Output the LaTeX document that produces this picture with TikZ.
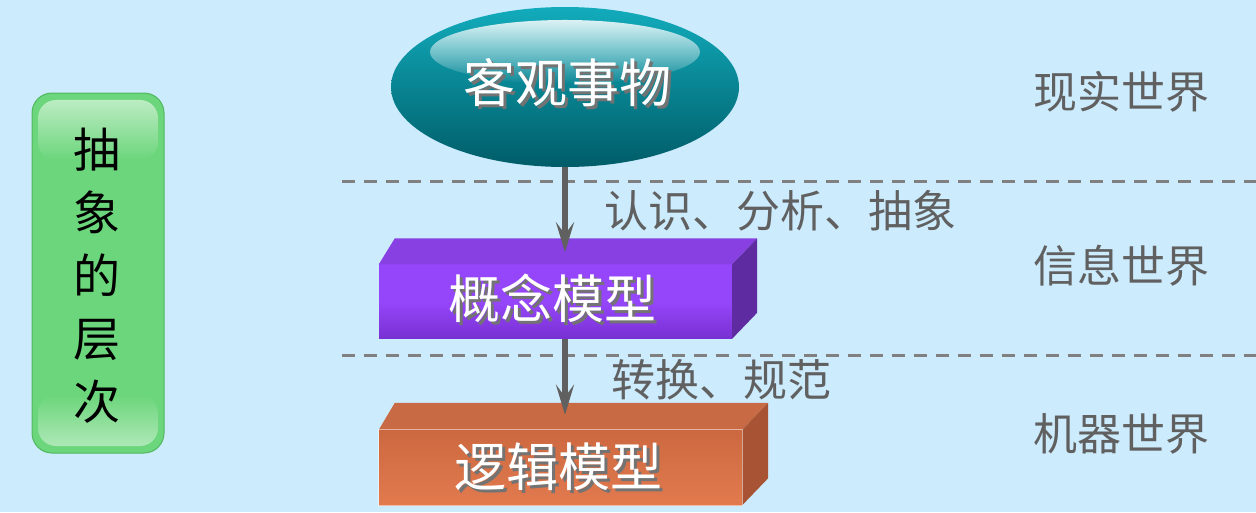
\documentclass[tikz,border=0pt]{standalone}
\usepackage{fontspec}
\newfontfamily\cjk{Noto Sans CJK SC}
\usetikzlibrary{shapes.geometric,arrows.meta,fadings,calc}

\definecolor{bg}{RGB}{204,235,253}
\definecolor{linegray}{RGB}{128,128,128}
\definecolor{arrowgray}{RGB}{96,96,96}
\definecolor{textgray}{RGB}{96,96,96}
\definecolor{tealtop}{RGB}{18,172,188}
\definecolor{tealbot}{RGB}{0,92,104}
\definecolor{purpfront}{RGB}{150,70,250}
\definecolor{purpfrontdk}{RGB}{120,48,210}
\definecolor{purptop}{RGB}{136,64,226}
\definecolor{purpside}{RGB}{94,44,160}
\definecolor{orgfront}{RGB}{226,122,78}
\definecolor{orgfrontdk}{RGB}{204,104,64}
\definecolor{orgtop}{RGB}{200,106,68}
\definecolor{orgside}{RGB}{168,84,52}
\definecolor{greenfill}{RGB}{108,214,124}
\definecolor{greenedge}{RGB}{80,184,96}

% white caption with a soft grey drop shadow
\newcommand\shadowed[1]{\rlap{\kern3pt\raisebox{-3pt}{\color{black!55}#1}}#1}

\tikzset{
  dashline/.style={draw=linegray, line width=3pt, dash pattern=on 13pt off 9pt},
  flow/.style={draw=arrowgray, line width=5.5pt,
    -{Stealth[length=30pt,width=18pt,inset=12pt]}},
  worldlabel/.style={text=textgray, font=\cjk\fontsize{44}{48}\selectfont, inner sep=0pt},
  steplabel/.style={text=textgray, font=\cjk\fontsize{44}{48}\selectfont, inner sep=0pt, anchor=west},
  boxtext/.style={text=white, font=\cjk\fontsize{52}{58}\selectfont, inner sep=0pt},
  frontface/.style={minimum width=353pt, minimum height=74pt, inner sep=0pt},
}

\begin{document}
\begin{tikzpicture}[x=1pt,y=-1pt]
\fill[bg] (0,0) rectangle (1256,512);
\useasboundingbox (0,0) rectangle (1256,512);

% level separators
\draw[dashline] (342,181) -- (1256,181);
\draw[dashline] (342,355) -- (1256,355);

% left side bar
\fill[greenfill, draw=greenedge, line width=1pt, rounded corners=20pt] (32,93) rectangle (164,453);
\fill[white, opacity=0.55, path fading=south, rounded corners=18pt] (38,100) rectangle (158,160);
\fill[white, opacity=0.45, path fading=north, rounded corners=18pt] (38,395) rectangle (158,446);
\node (side) [font=\cjk\fontsize{47}{63}\selectfont, align=center, inner sep=0pt]
  at (97,276) {抽\\象\\的\\层\\次};

% real-world object
\node (obj) [ellipse, minimum width=348pt, minimum height=160pt, inner sep=0pt,
  top color=tealtop, bottom color=tealbot] at (565,87) {};
\fill[white, opacity=0.85, path fading=south] (565,52) ellipse [x radius=135, y radius=32];
\node (objtext) [boxtext] at (567,84) {\shadowed{客观事物}};

% conceptual model block
\node (concept) [frontface, top color=purpfront, bottom color=purpfrontdk, middle color=purpfront]
  at (555.5,301.5) {};
\fill[purptop] (concept.north west) -- ++(16,-26) -- ($(concept.north east)+(25,-26)$)
  -- (concept.north east) -- cycle;
\fill[purpside] (concept.north east) -- ++(25,-26) -- ($(concept.south east)+(25,-26)$)
  -- (concept.south east) -- cycle;
\node (concepttext) [boxtext] at (552,300) {\shadowed{概念模型}};

% logical model block
\node (logic) [frontface, minimum width=363pt, minimum height=75pt,
  top color=orgfrontdk, bottom color=orgfront] at (560.5,467.5) {};
\fill[orgtop] (logic.north west) -- ++(16,-27) -- ($(logic.north east)+(26,-27)$)
  -- (logic.north east) -- cycle;
\fill[orgside] (logic.north east) -- ++(26,-27) -- ($(logic.south east)+(26,-27)$)
  -- (logic.south east) -- cycle;
\draw[white, opacity=0.5, line width=0.8pt] (logic.south west) rectangle (logic.north east);
\node (logictext) [boxtext] at (558,468) {\shadowed{逻辑模型}};

% transitions
\draw[flow] (obj.south) -- ([yshift=12pt]obj.south |- concept.north);
\draw[flow] (obj.south |- concept.south) -- ([yshift=15pt]obj.south |- logic.north);
\node (step1) [steplabel] at (604,211) {认识、分析、抽象};
\node (step2) [steplabel] at (611,380) {转换、规范};

% world levels
\node (real) [worldlabel] at (1121,92) {现实世界};
\node (info) [worldlabel] at (1121,266) {信息世界};
\node (mach) [worldlabel] at (1121,434) {机器世界};
\end{tikzpicture}
\end{document}
